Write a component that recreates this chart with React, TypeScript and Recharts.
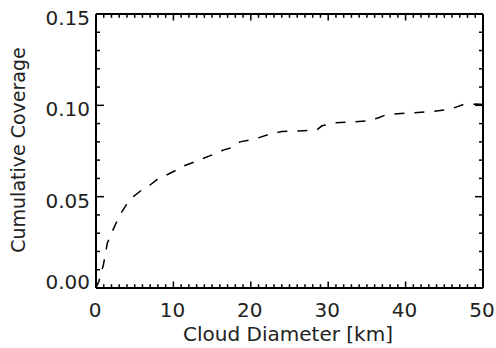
import React from 'react';
import { LineChart, Line, XAxis, YAxis } from 'recharts';

// cloud diameter (km) and cumulative coverage
const diameterKm = [
  0, 0.4, 0.95, 1.46, 2.0, 2.58, 3.1, 3.9, 4.8, 5.9, 7.0, 8.05, 9.1, 10.4, 11.3, 12.8,
  13.9, 15.2, 15.8, 16.4, 17.7, 18.6, 20.3, 22.5, 24.0, 26.8, 28.5, 29.2, 30.9, 35.0,
  36.5, 37.6, 40.4, 43.2, 45.7, 47.5, 49.2, 50,
];
const coverage = [
  0, 0.004, 0.0126, 0.0245, 0.03, 0.0354, 0.04, 0.0455, 0.05, 0.0536, 0.0564, 0.06,
  0.0618, 0.0646, 0.0668, 0.0691, 0.071, 0.0732, 0.0737, 0.0755, 0.077, 0.08, 0.0813,
  0.0843, 0.0857, 0.0861, 0.0865, 0.0888, 0.0905, 0.0914, 0.0932, 0.095, 0.0958,
  0.0965, 0.0978, 0.1005, 0.1007, 0.1005,
];

const xMajor = [0, 10, 20, 30, 40, 50];
const yMajor = [0, 0.05, 0.1, 0.15];
const xTicks = Array.from({ length: 51 }, (_, i) => i);
const yTicks = Array.from({ length: 16 }, (_, i) => i / 100);

const data = diameterKm.map((d, i) => ({ d, c: coverage[i] }));

const FONT = '"DejaVu Sans", sans-serif';
const txt = { fontFamily: FONT, fontSize: 20, fill: '#222' };

const isXMajor = (v: number) => xMajor.includes(v);
const isYMajor = (v: number) => yMajor.some((m) => Math.abs(m - v) < 1e-6);

const BottomTick = (p: any) => {
  const { x, y, payload } = p;
  const major = isXMajor(payload.value);
  return (
    <g>
      <line x1={x} y1={y} x2={x} y2={y - (major ? 6.5 : 3.8)} stroke="#000" strokeWidth={1.5} />
      {major && (
        <text x={x - 1} y={y + 29} textAnchor="middle" {...txt}>
          {payload.value}
        </text>
      )}
    </g>
  );
};

const TopTick = (p: any) => {
  const { x, y, payload } = p;
  const major = isXMajor(payload.value);
  return <line x1={x} y1={y} x2={x} y2={y + (major ? 6.5 : 3.8)} stroke="#000" strokeWidth={1.5} />;
};

const LeftTick = (p: any) => {
  const { x, y, payload } = p;
  const major = isYMajor(payload.value);
  return (
    <g>
      <line x1={x} y1={y} x2={x + (major ? 8 : 4)} y2={y} stroke="#000" strokeWidth={1.5} />
      {major && (
        <text x={x - 6} y={Math.min(y + 4, 282) + 7} textAnchor="end" {...txt}>
          {payload.value.toFixed(2)}
        </text>
      )}
    </g>
  );
};

const RightTick = (p: any) => {
  const { x, y, payload } = p;
  const major = isYMajor(payload.value);
  return <line x1={x} y1={y} x2={x - (major ? 8 : 4)} y2={y} stroke="#000" strokeWidth={1.5} />;
};

const axisLine = { stroke: '#000', strokeWidth: 2 };

export default function App() {
  return (
    <div style={{ position: 'absolute', left: 0, top: 0, width: 496, height: 348, background: '#fff' }}>
      <LineChart width={496} height={348} data={data} margin={{ top: 13, right: 12, bottom: 0, left: 0 }}>
        <XAxis
          xAxisId="b"
          dataKey="d"
          type="number"
          domain={[0, 50]}
          allowDataOverflow
          ticks={xTicks}
          interval={0}
          height={60}
          tickSize={0}
          tickMargin={0}
          tickLine={false}
          axisLine={axisLine}
          tick={BottomTick}
          label={() => (
            <text x={288} y={341} textAnchor="middle" {...txt}>
              Cloud Diameter [km]
            </text>
          )}
        />
        <XAxis
          xAxisId="t"
          orientation="top"
          dataKey="d"
          type="number"
          domain={[0, 50]}
          allowDataOverflow
          ticks={xTicks}
          interval={0}
          height={1}
          tickSize={0}
          tickMargin={0}
          tickLine={false}
          axisLine={axisLine}
          tick={TopTick}
        />
        <YAxis
          yAxisId="l"
          type="number"
          domain={[0, 0.15]}
          allowDataOverflow
          ticks={yTicks}
          interval={0}
          width={96}
          tickSize={0}
          tickMargin={0}
          tickLine={false}
          axisLine={axisLine}
          tick={LeftTick}
          label={() => (
            <text x={25} y={150} transform="rotate(-90 25 150)" textAnchor="middle" {...txt} fontSize={19}>
              Cumulative Coverage
            </text>
          )}
        />
        <YAxis
          yAxisId="r"
          orientation="right"
          type="number"
          domain={[0, 0.15]}
          allowDataOverflow
          ticks={yTicks}
          interval={0}
          width={1}
          tickSize={0}
          tickMargin={0}
          tickLine={false}
          axisLine={axisLine}
          tick={RightTick}
        />
        <Line
          xAxisId="b"
          yAxisId="l"
          type="linear"
          dataKey="c"
          stroke="#000"
          strokeWidth={1.5}
          strokeDasharray="10 10"
          dot={false}
          isAnimationActive={false}
        />
      </LineChart>
    </div>
  );
}
